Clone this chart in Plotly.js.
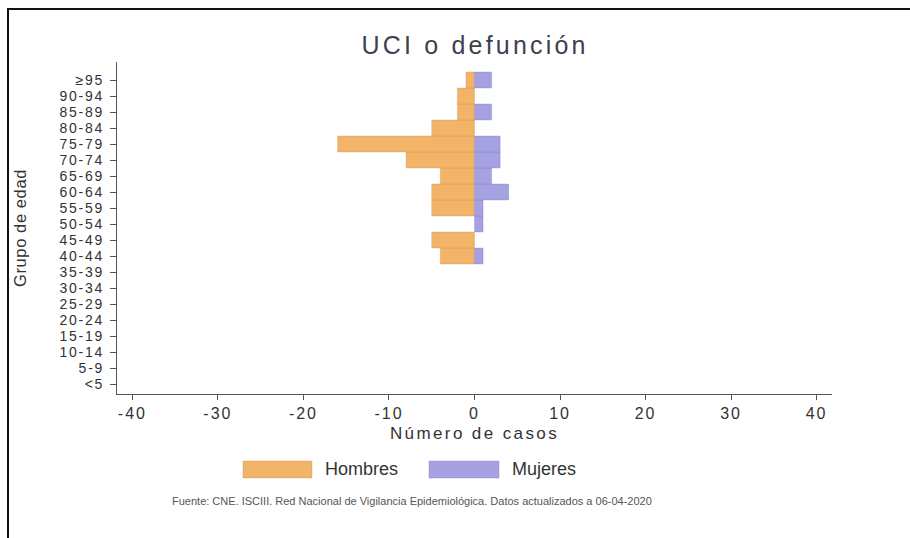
<!DOCTYPE html>
<html>
<head>
<meta charset="utf-8">
<script src="https://cdn.plot.ly/plotly-3.0.1.min.js"></script>
<style>
html,body{margin:0;padding:0;background:#fff;}
#frame{position:absolute;left:7px;top:8px;width:910px;height:540px;border-left:2px solid #111;border-top:2px solid #111;pointer-events:none;z-index:10;}
#chart{width:910px;height:538px;}
#chart .gtitle{letter-spacing:3.2px;}
#chart .xtick text{letter-spacing:2px;}
#chart .ytick text{letter-spacing:1.8px;}
#chart .xtitle{letter-spacing:2.4px;}
#chart .ytitle{letter-spacing:0.6px;}
</style>
</head>
<body>
<div id="chart"></div>
<div id="frame"></div>
<script>
// Age groups, bottom to top
const ageGroups = ["<5","5-9","10-14","15-19","20-24","25-29","30-34","35-39","40-44","45-49","50-54","55-59","60-64","65-69","70-74","75-79","80-84","85-89","90-94","≥95"];
// Hombres (shown to the left as negatives)
const hombres = [0,0,0,0,0,0,0,0,-4,-5,0,-5,-5,-4,-8,-16,-5,-2,-2,-1];
// Mujeres
const mujeres = [0,0,0,0,0,0,0,0,1,0,1,1,4,2,3,3,0,2,0,2];
const xTicks = [-40,-30,-20,-10,0,10,20,30,40];
const xTickText = ["-40","-30","-20","-10","0","10","20","30","40"];
const seriesNames = ["Hombres","Mujeres"];
const colors = ["#F2B468","#A6A2E2"];
const titleText = "UCI o defunción";
const xTitle = "Número de casos";
const yTitle = "Grupo de edad";
const sourceText = "Fuente: CNE. ISCIII. Red Nacional de Vigilancia Epidemiológica. Datos actualizados a 06-04-2020";

const font = "Liberation Sans, Arial, sans-serif";
const nz = v => (v === 0 ? null : v);

const traces = [
  {type:"bar", orientation:"h", name:seriesNames[0], y:ageGroups, x:hombres.map(nz),
   marker:{color:colors[0], line:{color:"rgba(200,140,70,0.5)", width:0.6}}, showlegend:false},
  {type:"bar", orientation:"h", name:seriesNames[1], y:ageGroups, x:mujeres.map(nz),
   marker:{color:colors[1], line:{color:"rgba(120,115,200,0.5)", width:0.6}}, showlegend:false}
];

const legY = 469;
const H = 538;
function py(px){ return 1 - (px - 62) / 332; } // paper y from pixel
function pxX(px){ return (px - 117) / 715; }

const layout = {
  width:910, height:538,
  paper_bgcolor:"#fff", plot_bgcolor:"#fff",
  margin:{l:117, r:78, t:62, b:144},
  barmode:"relative", bargap:0,
  font:{family:font, color:"#333"},
  title:{text:titleText, font:{family:font, size:25, color:"#3c4150"}, x:0.522, xanchor:"center", y:1-45/H, yanchor:"middle", xref:"container", yref:"container"},
  xaxis:{range:[-41.8,41.8], tickmode:"array", tickvals:xTicks, ticktext:xTickText, ticks:"outside", ticklen:5, tickcolor:"#555",
         showline:true, linecolor:"#555", linewidth:1, showgrid:false, zeroline:false,
         tickfont:{size:16, color:"#333"},
         title:{text:xTitle, font:{size:17, color:"#333"}, standoff:5}},
  yaxis:{type:"category", categoryorder:"array", categoryarray:ageGroups, range:[-0.625,20.125],
         tickmode:"array", tickvals:ageGroups, ticktext:ageGroups, ticklabelstandoff:3,
         ticks:"outside", ticklen:6, tickcolor:"#555", showline:true, linecolor:"#555", linewidth:1,
         showgrid:false, zeroline:false, tickfont:{size:14, color:"#333"},
         title:{text:yTitle, font:{size:16.5, color:"#333"}, standoff:37}},
  shapes:[
    {type:"rect", xref:"paper", yref:"paper", x0:pxX(243), x1:pxX(312), y0:py(461), y1:py(478), fillcolor:colors[0], line:{color:"rgba(200,140,70,0.6)", width:0.6}},
    {type:"rect", xref:"paper", yref:"paper", x0:pxX(429), x1:pxX(499), y0:py(461), y1:py(478), fillcolor:colors[1], line:{color:"rgba(120,115,200,0.6)", width:0.6}}
  ],
  annotations:[
    {xref:"paper", yref:"paper", x:pxX(323), y:py(legY), xanchor:"left", yanchor:"middle", text:seriesNames[0], showarrow:false, font:{size:18, color:"#333"}},
    {xref:"paper", yref:"paper", x:pxX(510), y:py(legY), xanchor:"left", yanchor:"middle", text:seriesNames[1], showarrow:false, font:{size:18, color:"#333"}},
    {xref:"paper", yref:"paper", x:pxX(412), y:py(501), xanchor:"center", yanchor:"middle", text:sourceText, showarrow:false, font:{size:11, color:"#555"}}
  ]
};

Plotly.newPlot("chart", traces, layout, {displayModeBar:false, staticPlot:true});
</script>
</body>
</html>
